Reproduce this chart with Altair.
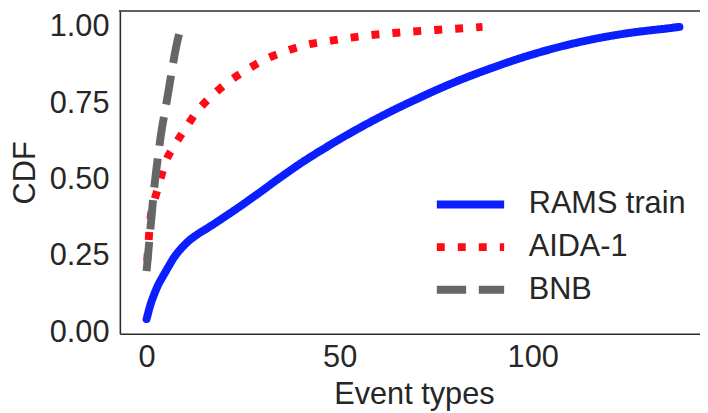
import altair as alt
import pandas as pd

series_names = ["RAMS train", "AIDA-1", "BNB"]
series_colors = ["#0a1eff", "#ff0a16", "#666666"]
series_dashes = [[1, 0], [8, 13.2], [29.6, 12.8]]

rams_x = [0, 1, 2, 3, 4, 5, 6, 7, 8, 9, 10, 11, 12, 13, 15, 17, 20, 22, 25, 27, 30, 33, 36,
          40, 45, 50, 55, 60, 65, 70, 75, 80, 85, 90, 95, 100, 105, 110, 115, 120, 125, 130, 135, 138]
rams_cdf = [0.043, 0.09, 0.125, 0.155, 0.178, 0.2, 0.222, 0.243, 0.26, 0.275, 0.288, 0.3, 0.31, 0.319,
            0.335, 0.351, 0.376, 0.393, 0.419, 0.437, 0.464, 0.492, 0.519, 0.554, 0.594, 0.632, 0.668,
            0.702, 0.734, 0.764, 0.793, 0.82, 0.845, 0.868, 0.89, 0.91, 0.928, 0.944, 0.958, 0.97, 0.98,
            0.988, 0.995, 1.0]

aida_x = [0, 1, 2, 3, 4, 5, 7, 10, 13, 17, 21, 26, 31, 36, 41, 47, 53, 58, 64, 69, 75, 80, 87]
aida_cdf = [0.2, 0.37, 0.43, 0.475, 0.52, 0.56, 0.607, 0.666, 0.722, 0.775, 0.818, 0.86, 0.895,
            0.92, 0.94, 0.953, 0.965, 0.973, 0.98, 0.985, 0.99, 0.994, 1.0]

bnb_x = [0, 1, 2, 3, 4, 5, 6, 7, 8, 9]
bnb_cdf = [0.2, 0.34, 0.475, 0.58, 0.67, 0.74, 0.815, 0.89, 0.955, 1.0]

x_ticks = [0, 50, 100]
y_ticks = [0, 0.25, 0.5, 0.75, 1.0]

W, H = 586, 326
TEXT = "#262626"
FRAME = "#2b2b2b"
FS = 31

frames = {
    "RAMS train": pd.DataFrame({"x": rams_x, "cdf": rams_cdf, "series": "RAMS train"}),
    "AIDA-1": pd.DataFrame({"x": aida_x, "cdf": aida_cdf, "series": "AIDA-1"}),
    "BNB": pd.DataFrame({"x": bnb_x, "cdf": bnb_cdf, "series": "BNB"}),
}

x_scale = alt.Scale(domain=[-6.92, 143.33], nice=False, zero=False)
y_scale = alt.Scale(domain=[-0.005, 1.052], nice=False, zero=False)
color_scale = alt.Scale(domain=series_names, range=series_colors)
dash_scale = alt.Scale(domain=series_names, range=series_dashes)

x_axis = alt.Axis(values=x_ticks, format="d", title="Event types", ticks=False, grid=False,
                  labelPadding=9, titleX=W / 2 + 4, titleY=70, titleBaseline="alphabetic",
                  titleAnchor="middle", titleAlign="center")
y_axis = alt.Axis(values=y_ticks, format=".2f", title="CDF", ticks=False, grid=False,
                  labelPadding=11, titleX=-95, titleY=H / 2, titleAngle=-90,
                  titleBaseline="middle", titleAlign="center")

sym = 68 / 3.0
legend = alt.Legend(title=None, orient="none", legendX=316 + sym, legendY=180,
                    symbolType="M-3,0H3", symbolSize=sym * sym, symbolStrokeWidth=8,
                    labelFontSize=FS, labelOffset=68 - sym - 2, rowPadding=10,
                    labelLimit=400, labelColor=TEXT)

caps = {"RAMS train": "round", "AIDA-1": "butt", "BNB": "butt"}
offsets = {"RAMS train": 0, "AIDA-1": 11, "BNB": 0}

layers = []
for name in series_names:
    layers.append(
        alt.Chart(frames[name]).mark_line(strokeWidth=8, strokeCap=caps[name],
                                          strokeDashOffset=offsets[name],
                                          interpolate="monotone").encode(
            x=alt.X("x:Q", scale=x_scale, axis=x_axis),
            y=alt.Y("cdf:Q", scale=y_scale, axis=y_axis),
            color=alt.Color("series:N", scale=color_scale, legend=legend),
            strokeDash=alt.StrokeDash("series:N", scale=dash_scale, legend=legend),
        )
    )

top_frame = alt.Chart(pd.DataFrame({"a": [0]})).mark_rule(color=FRAME, strokeWidth=1.6).encode(
    x=alt.value(-1), x2=alt.value(W + 20), y=alt.value(0)
)

chart = alt.layer(*layers, top_frame).properties(
    width=W, height=H,
    autosize=alt.AutoSizeParams(type="none"),
    padding={"left": 113, "top": 1, "right": 0, "bottom": 76},
).configure(
    font="Liberation Sans",
).configure_view(
    stroke=None
).configure_axis(
    labelFont="Liberation Sans", titleFont="Liberation Sans",
    labelFontSize=FS, titleFontSize=FS, titleFontWeight="normal",
    labelColor=TEXT, titleColor=TEXT,
    domainColor=FRAME, domainWidth=1.6,
)

chart.save("out.html", embed_options={"renderer": "svg", "actions": False})
